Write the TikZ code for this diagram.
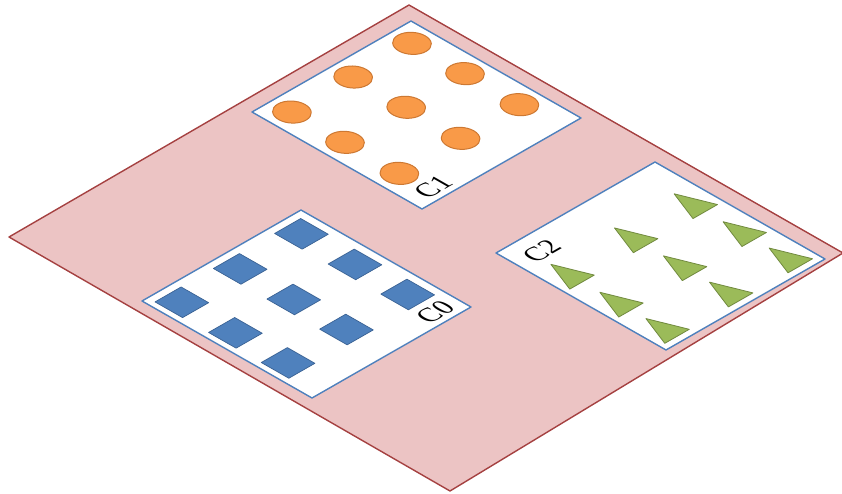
\documentclass[tikz,border=0pt]{standalone}
\usepackage{fontspec}
\setmainfont{Liberation Serif}
\definecolor{floorfill}{RGB}{236,196,196}
\definecolor{floorline}{RGB}{165,65,65}
\definecolor{panelline}{RGB}{79,129,189}
\definecolor{orfill}{RGB}{249,154,72}
\definecolor{orline}{RGB}{205,120,50}
\definecolor{blfill}{RGB}{79,129,189}
\definecolor{blline}{RGB}{58,98,148}
\definecolor{grfill}{RGB}{155,187,89}
\definecolor{grline}{RGB}{113,138,63}
\begin{document}
\begin{tikzpicture}[x=1pt,y=-1pt,line join=round,
  floor/.style={draw=floorline,fill=floorfill,line width=1.4pt},
  panel/.style={draw=panelline,fill=white,line width=1.4pt},
  circ/.style={draw=orline,fill=orfill,line width=1pt},
  sq/.style={draw=blline,fill=blfill,line width=0.7pt},
  tri/.style={draw=grline,fill=grfill,line width=0.8pt},
  lbl/.style={font=\fontsize{14.5}{17}\selectfont,inner sep=0pt,transform shape},
  panelframe/.style={shift={#1},cm={1.59,0.91,-1.70,0.97,(0,0)}}]
\useasboundingbox (0,0) rectangle (842,494);
% floor
\coordinate (fT) at (409,5);
\coordinate (fR) at (843,253);
\coordinate (fB) at (450,491);
\coordinate (fL) at (9,237);
\draw[floor] (fT) -- (fR) -- (fB) -- (fL) -- cycle;

% C1 panel: circles
\begin{scope}[panelframe={(252,112)}]
  \draw[panel] (0,0) -- (100,0) -- (100,100) -- (0,100) -- cycle;
  \foreach \s/\t in {88/11.8,51/11.8,12.5/11.8,88/43,51/43,12.5/43,88/75,51/75,12.5/75}
    \draw[circ] (\s,\t) circle[radius=8.3];
  \node[lbl] (c1) at (15.5,92) {C1};
\end{scope}

% C0 panel: squares
\begin{scope}[panelframe={(142,301)}]
  \draw[panel] (0,0) -- (100,0) -- (100,100) -- (0,100) -- cycle;
  \foreach \s/\t in {87/12.4,48.5/12.4,11.8/12.4,87/43.9,48.5/43.9,11.8/43.9,87/74.9,48.5/74.9,11.8/74.9}
    \draw[sq] (\s-8.2,\t-8.1) rectangle +(16.4,16.2);
  \node[lbl] (c0) at (85.7,92.2) {C0};
\end{scope}

% C2 panel: triangles
\begin{scope}[panelframe={(496,253)}]
  \draw[panel] (0,0) -- (100,0) -- (100,100) -- (0,100) -- cycle;
  \foreach \s/\t in {88.5/34.3,51/34.3,11/34.3,88.5/63.1,51/63.1,11/63.1,88.5/90.2,51/90.2,11/90.2}
    \draw[tri] (\s,\t-12.3) -- (\s+7.7,\t+6) -- (\s-7.7,\t+6) -- cycle;
  \node[lbl] (c2) at (15.4,12.4) {C2};
\end{scope}
\end{tikzpicture}
\end{document}
